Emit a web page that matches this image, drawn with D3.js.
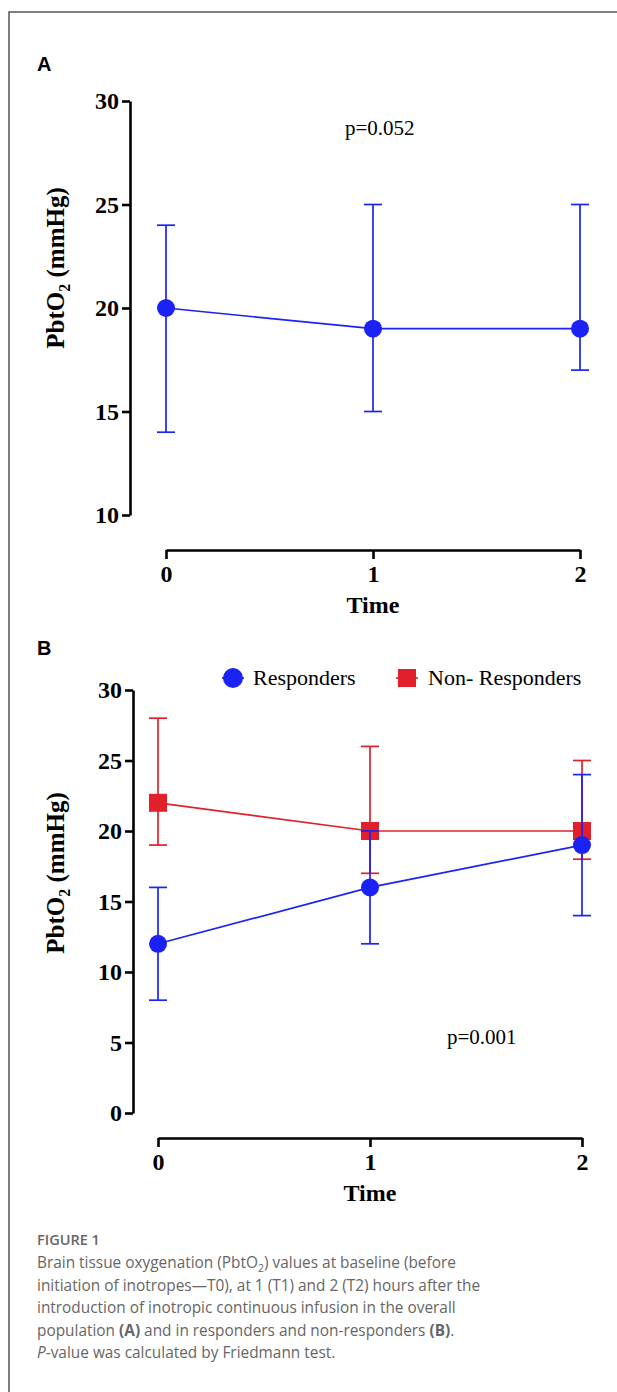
<!DOCTYPE html>
<html>
<head>
<meta charset="utf-8">
<script src="https://cdn.jsdelivr.net/npm/d3@7"></script>
<style>
  body { margin: 0; background: #fff; }
  .axis path, .axis line { stroke: #000; stroke-width: 2.6px; }
  .axis text { font-family: "Liberation Serif", "Times New Roman", serif; font-weight: bold; font-size: 24px; fill: #000; }
</style>
</head>
<body>
<div id="viz-container"></div>
<script>
// data
const times = [0, 1, 2];
const timeTicks = ["0", "1", "2"];

// panel A: overall population
const overallMean = [20, 19, 19];
const overallLow = [14, 15, 17];
const overallHigh = [24, 25, 25];
const yTicksA = [10, 15, 20, 25, 30];

// panel B: responders vs non-responders
const respMean = [12, 16, 19];
const respLow = [8, 12, 14];
const respHigh = [16, 20, 24];
const nonMean = [22, 20, 20];
const nonLow = [19, 17, 18];
const nonHigh = [28, 26, 25];
const yTicksB = [0, 5, 10, 15, 20, 25, 30];

const BLUE = "#1b22f5", RED = "#e2202b";
const serif = "'Liberation Serif', 'Times New Roman', serif";

const svg = d3.select("#viz-container")
    .append("svg")
    .attr("width", 617)
    .attr("height", 1392);

// figure frame (top and left edge only, rest is cut off)
svg.append("path")
    .attr("d", "M9,1392 V12 H617")
    .attr("fill", "none")
    .attr("stroke", "#555")
    .attr("stroke-width", 1.5);

function seriesRows(mean, low, high) {
    return times.map((t, i) => ({ t: t, m: mean[i], lo: low[i], hi: high[i] }));
}

function drawPanel(p) {
    const x = d3.scaleLinear().domain([0, 2]).range([p.x0, p.x1]);
    const y = d3.scaleLinear().domain(p.yDomain).range([p.yBottom, p.yTop]);

    // y axis
    svg.append("g")
        .attr("class", "axis")
        .attr("transform", `translate(${p.yAxisX},0)`)
        .call(d3.axisLeft(y).tickValues(p.yTicks).tickFormat(d3.format("d"))
            .tickSize(8).tickSizeOuter(0).tickPadding(3));

    // x axis, offset below the plot
    svg.append("g")
        .attr("class", "axis")
        .attr("transform", `translate(0,${p.xAxisY})`)
        .call(d3.axisBottom(x).tickValues(times).tickFormat((d, i) => timeTicks[i])
            .tickSize(9).tickSizeOuter(0).tickPadding(6));

    svg.append("text")
        .attr("x", (p.x0 + p.x1) / 2)
        .attr("y", p.xAxisY + 63)
        .attr("text-anchor", "middle")
        .style("font-family", serif)
        .style("font-weight", "bold")
        .style("font-size", "24px")
        .text("Time");

    // y title with subscript
    const yt = svg.append("text")
        .attr("transform", `translate(${p.titleX},${p.titleY}) rotate(-90)`)
        .attr("text-anchor", "middle")
        .style("font-family", serif)
        .style("font-weight", "bold")
        .style("font-size", "25px");
    yt.append("tspan").text("PbtO");
    yt.append("tspan").attr("dy", 6).style("font-size", "16px").text("2");
    yt.append("tspan").attr("dy", -6).text(" (mmHg)");

    // panel letter
    svg.append("text")
        .attr("x", 37)
        .attr("y", p.letterY)
        .style("font-family", "'Liberation Sans', Arial, sans-serif")
        .style("font-weight", "bold")
        .style("font-size", "20px")
        .text(p.letter);

    // series
    p.series.forEach(s => {
        const rows = seriesRows(s.mean, s.low, s.high);
        const g = svg.append("g");

        g.selectAll(".err")
            .data(rows)
            .enter().append("line")
            .attr("x1", d => x(d.t)).attr("x2", d => x(d.t))
            .attr("y1", d => y(d.lo)).attr("y2", d => y(d.hi))
            .attr("stroke", s.color).attr("stroke-width", 1.7);

        ["lo", "hi"].forEach(k => {
            g.selectAll(".cap-" + k)
                .data(rows)
                .enter().append("line")
                .attr("x1", d => x(d.t) - 9).attr("x2", d => x(d.t) + 9)
                .attr("y1", d => y(d[k])).attr("y2", d => y(d[k]))
                .attr("stroke", s.color).attr("stroke-width", 1.7);
        });

        g.append("path")
            .datum(rows)
            .attr("fill", "none")
            .attr("stroke", s.color)
            .attr("stroke-width", 1.7)
            .attr("d", d3.line().x(d => x(d.t)).y(d => y(d.m)));

        if (s.shape === "circle") {
            g.selectAll(".pt").data(rows).enter().append("circle")
                .attr("cx", d => x(d.t)).attr("cy", d => y(d.m))
                .attr("r", 9).attr("fill", s.color);
        } else {
            g.selectAll(".pt").data(rows).enter().append("rect")
                .attr("x", d => x(d.t) - 9).attr("y", d => y(d.m) - 9)
                .attr("width", 18).attr("height", 18).attr("fill", s.color);
        }
    });

    svg.append("text")
        .attr("x", p.pX)
        .attr("y", p.pY)
        .style("font-family", serif)
        .style("font-size", "21px")
        .text(p.pText);
}

drawPanel({
    letter: "A", letterY: 71,
    x0: 166, x1: 580, yTop: 101, yBottom: 515, yDomain: [10, 30],
    yAxisX: 130, xAxisY: 550, yTicks: yTicksA,
    titleX: 64, titleY: 268,
    pX: 345, pY: 135, pText: "p=0.052",
    series: [{ mean: overallMean, low: overallLow, high: overallHigh, color: BLUE, shape: "circle" }]
});

drawPanel({
    letter: "B", letterY: 655,
    x0: 158, x1: 582, yTop: 690, yBottom: 1113, yDomain: [0, 30],
    yAxisX: 133, xAxisY: 1138, yTicks: yTicksB,
    titleX: 64, titleY: 873,
    pX: 447, pY: 1044, pText: "p=0.001",
    series: [
        { mean: nonMean, low: nonLow, high: nonHigh, color: RED, shape: "square" },
        { mean: respMean, low: respLow, high: respHigh, color: BLUE, shape: "circle" }
    ]
});

// legend for panel B (marker with short line stubs)
const legend = svg.append("g").attr("transform", "translate(0,678)");
legend.append("line").attr("x1", 222).attr("x2", 244).attr("y1", 0).attr("y2", 0)
    .attr("stroke", BLUE).attr("stroke-width", 1.7);
legend.append("circle").attr("cx", 233).attr("cy", 0).attr("r", 10).attr("fill", BLUE);
legend.append("text").attr("x", 253).attr("y", 7)
    .style("font-family", serif).style("font-size", "22px").text("Responders");
legend.append("line").attr("x1", 396).attr("x2", 418).attr("y1", 0).attr("y2", 0)
    .attr("stroke", RED).attr("stroke-width", 1.7);
legend.append("rect").attr("x", 398).attr("y", -9).attr("width", 18).attr("height", 18).attr("fill", RED);
legend.append("text").attr("x", 428).attr("y", 7)
    .style("font-family", serif).style("font-size", "22px").text("Non- Responders");

// caption
const capFont = "'Open Sans', 'Noto Sans', sans-serif";
const capColor = "#666";
svg.append("text")
    .attr("x", 37).attr("y", 1245)
    .style("font-family", capFont).style("font-size", "14.5px").style("font-weight", 600)
    .attr("fill", capColor)
    .text("FIGURE 1");

const capLines = [
    [{ t: "Brain tissue oxygenation (PbtO" }, { t: "2", sub: true }, { t: ") values at baseline (before" }],
    [{ t: "initiation of inotropes\u2014T0), at 1 (T1) and 2 (T2) hours after the" }],
    [{ t: "introduction of inotropic continuous infusion in the overall" }],
    [{ t: "population " }, { t: "(A)", b: true }, { t: " and in responders and non-responders " }, { t: "(B)", b: true }, { t: "." }],
    [{ t: "P", i: true }, { t: "-value was calculated by Friedmann test." }]
];
capLines.forEach((parts, li) => {
    const txt = svg.append("text")
        .attr("x", 37).attr("y", 1268 + li * 22.6)
        .style("font-family", capFont).style("font-size", "15.4px")
        .attr("fill", capColor);
    let shifted = false;
    parts.forEach(part => {
        const ts = txt.append("tspan").text(part.t);
        if (part.b) ts.style("font-weight", "bold");
        if (part.i) ts.style("font-style", "italic");
        if (part.sub) { ts.attr("dy", 4).style("font-size", "10.5px"); shifted = true; }
        else if (shifted) { ts.attr("dy", -4); shifted = false; }
    });
});
</script>
</body>
</html>
